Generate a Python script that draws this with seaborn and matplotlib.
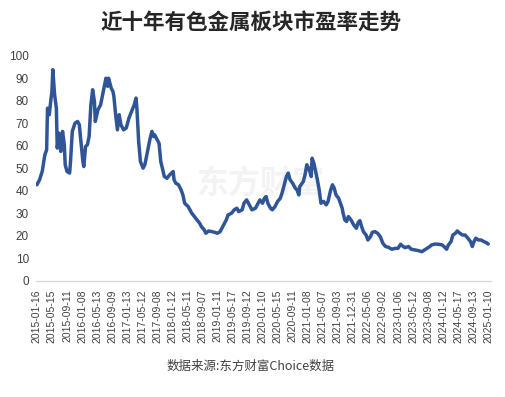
import matplotlib
matplotlib.use("Agg")
import matplotlib.pyplot as plt
import seaborn as sns
import pandas as pd

title = "近十年有色金属板块市盈率走势"
source = "数据来源:东方财富Choice数据"
watermark = "东方财富"

# category positions (weekly data points) and P/E values
week = [0, 3, 6, 9, 11, 12, 14, 16, 17, 18, 20, 22, 23, 25, 27, 29, 31, 32, 34, 37,
        38, 40, 43, 46, 48, 49, 52, 53, 55, 57, 59, 61, 63, 65, 66, 69, 72, 75, 78, 80,
        81, 84, 86, 87, 89, 91, 93, 95, 98, 101, 104, 107, 110, 112, 113, 115, 117, 120, 122, 125,
        128, 130, 132, 133, 136, 138, 140, 144, 147, 150, 154, 155, 157, 160, 163, 165, 167, 171, 175, 178,
        181, 184, 186, 189, 191, 194, 198, 201, 204, 207, 211, 214, 216, 220, 223, 226, 228, 232, 234, 237,
        240, 243, 247, 250, 252, 255, 257, 259, 261, 264, 266, 269, 272, 275, 277, 280, 282, 284, 286, 289,
        292, 294, 296, 297, 301, 303, 305, 307, 309, 310, 311, 313, 315, 317, 319, 321, 324, 327, 329, 332,
        334, 336, 338, 341, 343, 345, 346, 348, 350, 352, 355, 358, 361, 363, 365, 367, 369, 372, 374, 377,
        379, 382, 385, 388, 391, 394, 397, 401, 405, 408, 411, 413, 416, 420, 423, 427, 431, 435, 441, 444,
        446, 450, 454, 458, 460, 463, 465, 468, 470, 473, 475, 478, 481, 484, 487, 490, 492, 494, 496, 499,
        502, 505, 508, 510]
pe = [42.7, 44.9, 48.6, 56.0, 58.2, 76.7, 73.8, 81.2, 84.0, 93.8, 82.7, 76.7, 59.0, 65.6, 57.5, 66.4, 60.4, 51.6, 48.6, 47.9,
      53.0, 66.4, 70.0, 70.8, 69.3, 64.9, 53.0, 50.8, 59.7, 60.4, 64.1, 78.2, 84.9, 79.7, 70.8, 76.0, 78.2, 84.1, 90.0, 86.4,
      90.0, 85.6, 84.1, 81.9, 73.8, 67.1, 73.8, 69.3, 67.1, 67.9, 72.3, 75.3, 78.2, 81.2, 76.7, 61.9, 53.0, 50.1, 51.6, 57.5,
      63.4, 66.4, 64.1, 64.9, 62.7, 61.2, 53.0, 46.4, 45.6, 47.1, 48.6, 44.9, 43.4, 42.7, 40.4, 38.2, 34.5, 33.0, 30.1, 28.6,
      27.1, 25.6, 24.1, 22.7, 21.2, 22.2, 21.9, 21.6, 21.2, 21.9, 24.9, 27.1, 29.3, 30.1, 31.6, 32.3, 30.8, 31.6, 34.5, 36.0,
      33.8, 31.6, 32.3, 34.5, 36.0, 34.5, 36.7, 37.5, 34.5, 32.3, 31.6, 33.0, 35.3, 36.7, 39.0, 43.4, 46.4, 47.9, 45.0, 43.4,
      41.2, 40.4, 38.2, 41.9, 44.1, 47.1, 51.6, 50.1, 47.9, 46.4, 54.5, 52.3, 48.6, 44.9, 40.4, 34.5, 35.3, 33.8, 35.3, 40.4,
      42.7, 41.2, 38.2, 36.7, 34.5, 32.3, 30.1, 27.1, 26.4, 28.6, 27.1, 24.9, 23.4, 25.9, 26.8, 24.1, 21.9, 20.4, 18.2, 19.7,
      21.6, 21.9, 21.2, 19.7, 16.7, 15.3, 15.0, 14.1, 14.5, 14.5, 16.3, 15.6, 14.8, 15.3, 14.1, 13.8, 13.5, 13.0, 14.5, 15.3,
      16.0, 16.4, 16.3, 16.0, 15.3, 14.1, 16.0, 17.5, 20.4, 21.2, 22.2, 21.2, 20.4, 20.4, 19.0, 17.5, 15.3, 17.5, 19.0, 18.2,
      18.2, 17.5, 17.0, 16.4]

tick_labels = ["2015-01-16", "2015-05-15", "2015-09-11", "2016-01-08", "2016-05-13", "2016-09-09",
               "2017-01-13", "2017-05-12", "2017-09-08", "2018-01-12", "2018-05-11", "2018-09-07",
               "2019-01-11", "2019-05-17", "2019-09-12", "2020-01-10", "2020-05-15", "2020-09-11",
               "2021-01-08", "2021-05-07", "2021-09-03", "2021-12-31", "2022-05-06", "2022-09-02",
               "2023-01-06", "2023-05-12", "2023-09-08", "2024-01-12", "2024-05-17", "2024-09-13",
               "2025-01-10"]
tick_pos = [17 * i for i in range(len(tick_labels))]
y_ticks = list(range(0, 101, 10))

df = pd.DataFrame({"week": week, "pe": pe})

sns.set_theme(style="white")
plt.rcParams["font.family"] = ["Liberation Sans", "Noto Sans CJK SC", "DejaVu Sans"]

fig = plt.figure(figsize=(5.05, 3.97), dpi=100)
ax = fig.add_axes([0.0713, 0.2922, 0.9007, 0.5675])

ax.text(0.515, 0.535, watermark, transform=fig.transFigure, ha="center", va="center",
        fontsize=23, fontweight="bold", color="#f3f3f3", family=["Noto Sans CJK SC"], zorder=0)

sns.lineplot(data=df, x="week", y="pe", ax=ax, color="#2F5597", linewidth=2.5, zorder=3)

ax.set_xlim(-1, 513)
ax.set_ylim(0, 100)
ax.set_xticks(tick_pos)
ax.set_xticklabels(tick_labels, rotation=90, fontsize=7.5, color="#404040")
ax.set_yticks(y_ticks)
ax.set_yticklabels([str(v) for v in y_ticks], fontsize=8.5, color="#404040")
ax.tick_params(axis="both", length=0)
ax.tick_params(axis="x", pad=6)
ax.tick_params(axis="y", pad=5)
ax.set_xlabel("")
ax.set_ylabel("")
for s in ["top", "right", "left"]:
    ax.spines[s].set_visible(False)
ax.spines["bottom"].set_color("#d9d9d9")
ax.spines["bottom"].set_linewidth(1.0)
ax.grid(False)

fig.text(0.497, 0.943, title, ha="center", va="center", fontsize=15.5, fontweight="bold",
         color="#262626", family=["Noto Sans CJK SC"])
fig.text(0.497, 0.077, source, ha="center", va="center", fontsize=9, color="#404040",
         family=["Noto Sans CJK SC"])

fig.savefig("out.png", dpi=100)
